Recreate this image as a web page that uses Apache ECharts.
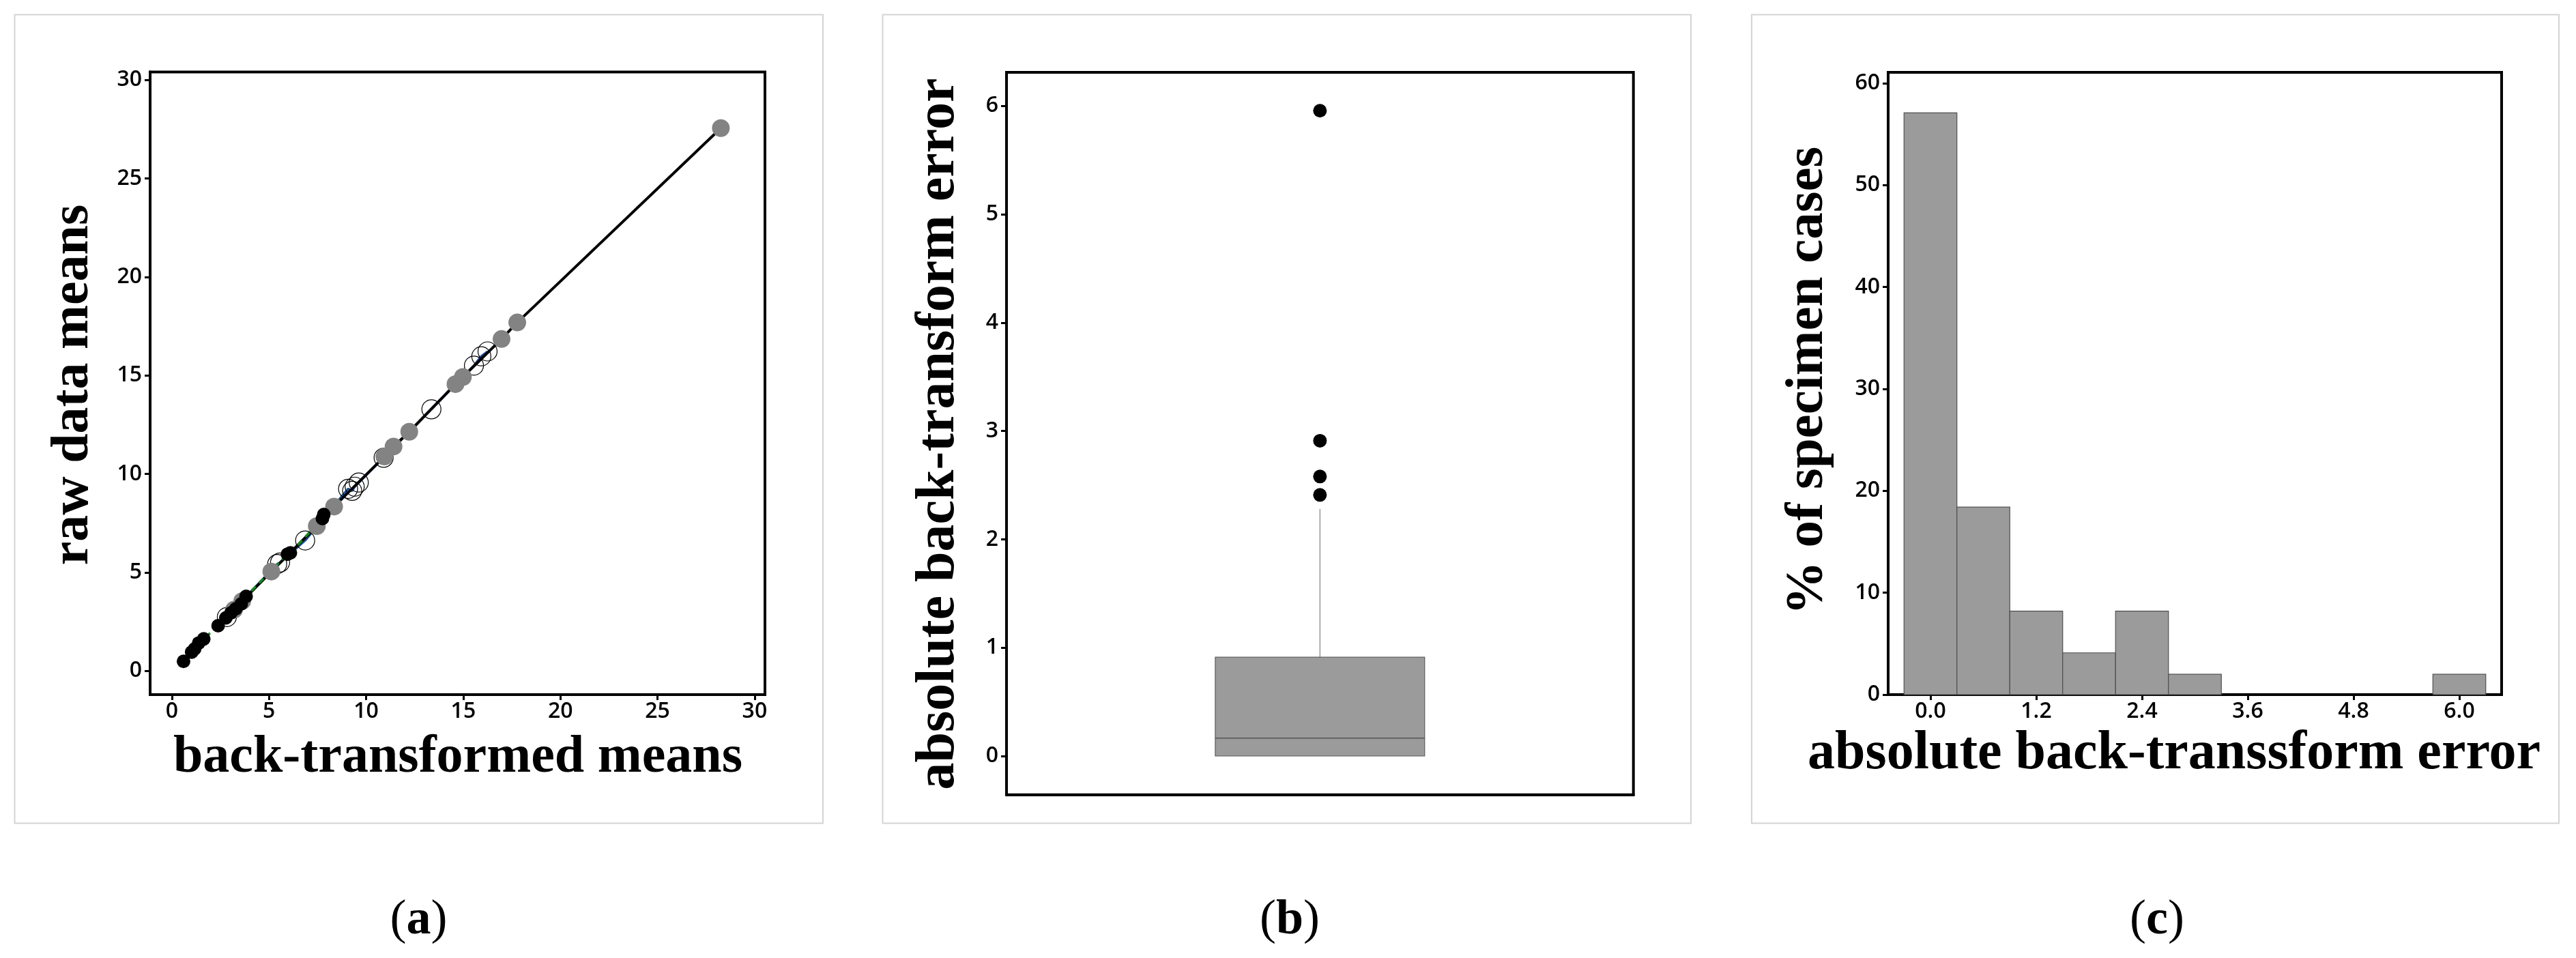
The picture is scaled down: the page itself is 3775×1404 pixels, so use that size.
<!DOCTYPE html>
<html><head><meta charset="utf-8">
<script src="https://cdn.jsdelivr.net/npm/echarts@6/dist/echarts.min.js"></script>
<style>html,body{margin:0;padding:0;background:#fff}#c{width:3775px;height:1404px}</style>
</head><body><div id="c"></div>
<script>
// ---------- Panel (a): raw data means vs back-transformed means ----------
const blackPts = [[0.60,0.48],[1.02,0.95],[1.17,1.11],[1.38,1.41],[1.64,1.62],[2.38,2.29],[2.78,2.69],[3.04,2.94],[3.29,3.15],[3.57,3.40],[3.82,3.78],[5.95,5.92],[6.10,5.99],[7.75,7.73],[7.82,7.94]];
const grayPts = [[3.20,3.10],[3.62,3.54],[5.12,5.04],[7.46,7.35],[8.35,8.34],[10.94,10.88],[11.41,11.39],[12.22,12.14],[14.60,14.56],[14.98,14.92],[16.97,16.85],[17.78,17.69],[28.26,27.56]];
const hollowPts = [[2.83,2.73],[5.42,5.42],[5.57,5.50],[6.86,6.62],[9.07,9.24],[9.28,9.14],[9.41,9.35],[9.62,9.56],[10.90,10.82],[13.36,13.28],[15.55,15.50],[15.93,15.97],[16.25,16.22]];
const aXTicks = [0,5,10,15,20,25,30];
const aYTicks = [0,5,10,15,20,25,30];
// ---------- Panel (b): box plot of absolute back-transform error ----------
const boxValues = [0, 0.165, 0.912, 0, 2.28]; // q1, median, q3, lower whisker, upper whisker
const boxOutliers = [5.956, 2.91, 2.58, 2.41];
const bYTicks = [0,1,2,3,4,5,6];
// ---------- Panel (c): histogram ----------
const binCenters = [0.0,0.6,1.2,1.8,2.4,3.0,3.6,4.2,4.8,5.4,6.0];
const binPct = [57.1,18.4,8.2,4.1,8.2,2.0,0,0,0,0,2.0];
const binWidth = 0.6;
const cXTicks = [0.0,1.2,2.4,3.6,4.8,6.0];
const cYTicks = [0,10,20,30,40,50,60];

const byX = a => a.slice().sort((p,q)=>p[0]-q[0]);
const tickFont = {fontFamily:'Open Sans', fontSize:32, fontWeight:600, color:'#000'};
const titleFont = 'Liberation Serif';

function valAxis(grid, min, max, ticks, isX, fmt){
  return {
    type:'value', gridIndex:grid, min:min, max:max,
    axisLine:{show:true, onZero:false, lineStyle:{color:'#000', width:4}},
    axisTick:{show:true, inside:false, length:8, customValues:ticks, lineStyle:{color:'#000', width:3}},
    axisLabel:Object.assign({show:true, customValues:ticks, margin:isX?9:12, formatter:fmt||(v=>String(v))}, tickFont),
    splitLine:{show:false}
  };
}
const gridStyle = {show:true, borderColor:'#000', borderWidth:4, containLabel:false};

const chart = echarts.init(document.getElementById('c'), null, {renderer:'canvas', width:3775, height:1404});

const option = {
  backgroundColor:'#fff',
  animation:false,
  grid:[
    Object.assign({left:220, top:105.5, width:901, height:912.5}, gridStyle),
    Object.assign({left:1475, top:106, width:918.7, height:1058.7}, gridStyle),
    Object.assign({left:2767, top:106, width:899, height:912}, gridStyle)
  ],
  xAxis:[
    valAxis(0, -1.12, 30.53, aXTicks, true),
    {type:'category', gridIndex:1, data:[''], boundaryGap:true,
     axisLine:{show:true, onZero:false, lineStyle:{color:'#000', width:4}}, axisTick:{show:false}, axisLabel:{show:false}, splitLine:{show:false}},
    valAxis(2, -0.48, 6.48, cXTicks, true, v=>Number(v).toFixed(1))
  ],
  yAxis:[
    valAxis(0, -1.21, 30.41, aYTicks, false),
    valAxis(1, -0.357, 6.31, bYTicks, false),
    valAxis(2, 0, 61.07, cYTicks, false)
  ],
  series:[
    {type:'line', xAxisIndex:0, yAxisIndex:0, data:byX(hollowPts), showSymbol:false, symbol:'none', z:1,
     lineStyle:{color:'#1f4e9a', width:3.5}},
    {type:'line', xAxisIndex:0, yAxisIndex:0, data:byX(grayPts), showSymbol:false, symbol:'none', z:2,
     lineStyle:{color:'#000', width:4}},
    {type:'line', xAxisIndex:0, yAxisIndex:0, data:byX(blackPts), showSymbol:false, symbol:'none', z:3,
     lineStyle:{color:'#17891f', width:3.5, type:[9,7]}},
    {type:'scatter', xAxisIndex:0, yAxisIndex:0, data:hollowPts, symbol:'circle', symbolSize:28, z:4,
     itemStyle:{color:'rgba(0,0,0,0)', borderColor:'#000', borderWidth:1.2, opacity:1}},
    {type:'scatter', xAxisIndex:0, yAxisIndex:0, data:grayPts, symbol:'circle', symbolSize:26, z:5,
     itemStyle:{color:'#838383', opacity:1}},
    {type:'scatter', xAxisIndex:0, yAxisIndex:0, data:blackPts, symbol:'circle', symbolSize:20, z:6,
     itemStyle:{color:'#000', opacity:1}},
    {type:'custom', xAxisIndex:1, yAxisIndex:1, data:[[0].concat(boxValues)], z:2,
     renderItem:function(params, api){
       const q1=api.value(1), med=api.value(2), q3=api.value(3), lo=api.value(4), hi=api.value(5);
       const band = api.size([1,0])[0];
       const w = band*0.334;
       const cx = api.coord([0,q3])[0];
       const yQ1 = api.coord([0,q1])[1], yQ3 = api.coord([0,q3])[1], yMed = api.coord([0,med])[1];
       const yHi = api.coord([0,hi])[1], yLo = api.coord([0,lo])[1];
       return {type:'group', children:[
         {type:'line', shape:{x1:cx, y1:yQ3, x2:cx, y2:yHi}, style:{stroke:'#8a8a8a', lineWidth:1.3}},
         {type:'line', shape:{x1:cx, y1:yQ1, x2:cx, y2:yLo}, style:{stroke:'#8a8a8a', lineWidth:1.3}},
         {type:'rect', shape:{x:cx-w/2, y:yQ3, width:w, height:yQ1-yQ3}, style:{fill:'#9b9b9b', stroke:'#5c5c5c', lineWidth:1.2}},
         {type:'line', shape:{x1:cx-w/2, y1:yMed, x2:cx+w/2, y2:yMed}, style:{stroke:'#555', lineWidth:1.5}}
       ]};
     }},
    {type:'scatter', xAxisIndex:1, yAxisIndex:1, data:boxOutliers.map(v=>[0,v]), symbol:'circle', symbolSize:20, z:5,
     itemStyle:{color:'#000', opacity:1}},
    {type:'custom', xAxisIndex:2, yAxisIndex:2, data:binCenters.map((c,i)=>[c, binPct[i]]), z:2,
     renderItem:function(params, api){
       const c = api.value(0), p = api.value(1);
       if (!p) return null;
       const tl = api.coord([c-binWidth/2, p]);
       const br = api.coord([c+binWidth/2, 0]);
       return {type:'rect', shape:{x:tl[0], y:tl[1], width:br[0]-tl[0], height:br[1]-tl[1]},
               style:{fill:'#9b9b9b', stroke:'#4f4f4f', lineWidth:1.2}};
     }}
  ],
  graphic:[
    {type:'rect', shape:{x:21.5, y:21.5, width:1184.5, height:1185}, style:{fill:'none', stroke:'#d4d4d4', lineWidth:2}, silent:true},
    {type:'rect', shape:{x:1293.5, y:21.5, width:1184.5, height:1185}, style:{fill:'none', stroke:'#d4d4d4', lineWidth:2}, silent:true},
    {type:'rect', shape:{x:2567, y:21.5, width:1183, height:1185}, style:{fill:'none', stroke:'#d4d4d4', lineWidth:2}, silent:true},
    {type:'text', x:671, y:1111, style:{text:'back-transformed means', font:'bold 78px "'+titleFont+'"', fill:'#000', align:'center', verticalAlign:'middle'}},
    {type:'text', x:108, y:564, rotation:Math.PI/2, style:{text:'raw data means', font:'bold 78px "'+titleFont+'"', fill:'#000', align:'center', verticalAlign:'middle'}},
    {type:'text', x:1376, y:636, rotation:Math.PI/2, style:{text:'absolute back-transform error', font:'bold 80px "'+titleFont+'"', fill:'#000', align:'center', verticalAlign:'middle'}},
    {type:'text', x:2650, y:558, rotation:Math.PI/2, style:{text:'% of specimen cases', font:'bold 79px "'+titleFont+'"', fill:'#000', align:'center', verticalAlign:'middle'}},
    {type:'text', x:3186, y:1105, style:{text:'absolute back-transsform error', font:'bold 80px "'+titleFont+'"', fill:'#000', align:'center', verticalAlign:'middle'}},
    {type:'text', x:613.5, y:1349, style:{text:'{p|(}{b|a}{p|)}', align:'center', verticalAlign:'middle',
      rich:{p:{fontFamily:titleFont, fontSize:72, fontWeight:'normal', fill:'#000'}, b:{fontFamily:titleFont, fontSize:72, fontWeight:'bold', fill:'#000'}}}},
    {type:'text', x:1890, y:1349, style:{text:'{p|(}{b|b}{p|)}', align:'center', verticalAlign:'middle',
      rich:{p:{fontFamily:titleFont, fontSize:72, fontWeight:'normal', fill:'#000'}, b:{fontFamily:titleFont, fontSize:72, fontWeight:'bold', fill:'#000'}}}},
    {type:'text', x:3161, y:1349, style:{text:'{p|(}{b|c}{p|)}', align:'center', verticalAlign:'middle',
      rich:{p:{fontFamily:titleFont, fontSize:72, fontWeight:'normal', fill:'#000'}, b:{fontFamily:titleFont, fontSize:72, fontWeight:'bold', fill:'#000'}}}}
  ]
};
chart.setOption(option);
</script>
</body></html>
